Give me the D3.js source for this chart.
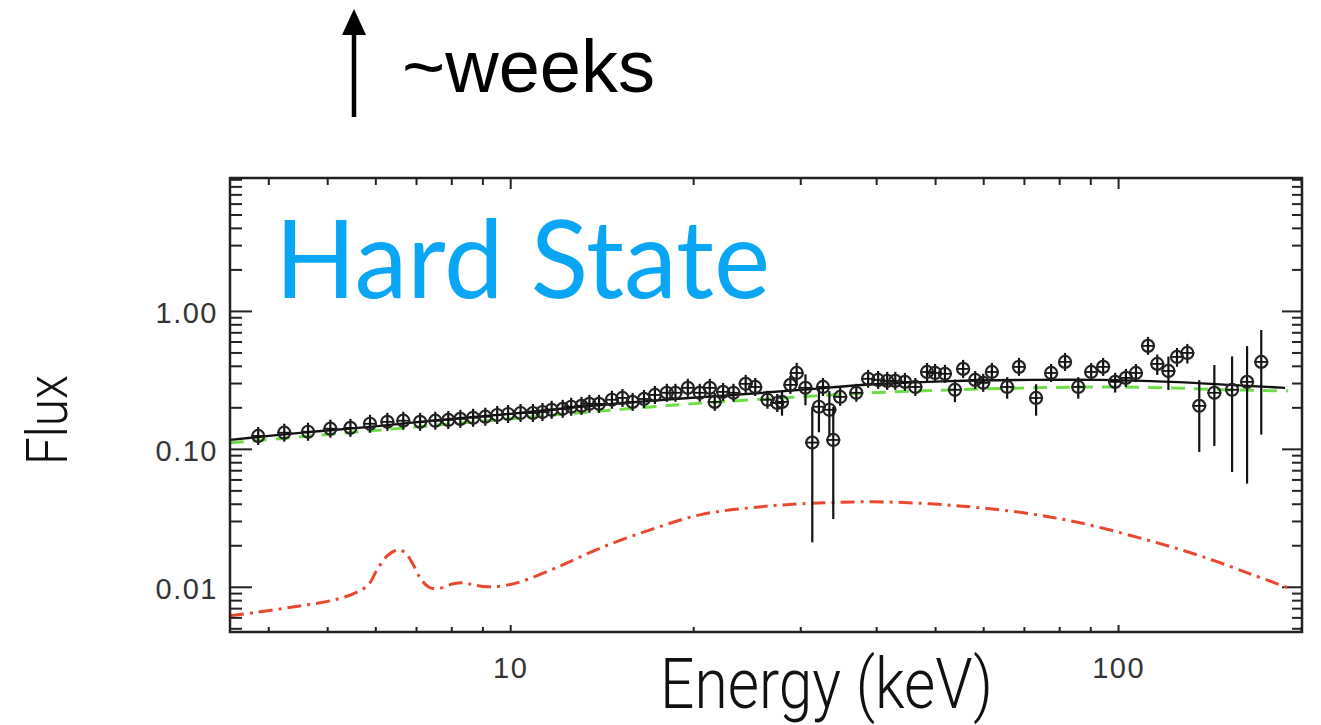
<!DOCTYPE html>
<html>
  <head>
    <script src="https://cdn.jsdelivr.net/npm/d3@7"></script>
    <style type="text/css">
      body { margin: 0; background: #fff; }
      .tick text { font-family: "Liberation Sans", Arial, sans-serif; font-size: 29px; fill: #333; letter-spacing: 1.5px; }
    </style>
  </head>
  <body>
    <script type="text/javascript">
      // --- data ---
      var energy = [3.85,4.25,4.65,5.06,5.46,5.88,6.28,6.67,7.11,
        7.53,7.91,8.28,8.69,9.10,9.52,9.92,10.4,10.9,11.3,11.7,12.2,12.6,13.1,13.5,14.0,
        14.7,15.3,15.9,16.6,17.3,18.1,18.7,19.6,20.5,21.3,21.7,22.4,23.3,24.4,25.3,26.5,27.5,
        28.0,28.9,29.6,30.6,31.4,32.2,32.7,33.5,34.0,34.9,37.1,38.8,40.3,41.7,43.0,44.6,46.4,48.5,50.0,51.9,53.9,55.6,58.2,60.0,62.0,65.7,68.7,73.3,77.6,81.8,86.0,
        90.3,94.5,98.9,103,107,112,116,121,125,130,136,144,154,163,172];
      var flux = [0.124,0.131,0.133,0.140,0.142,0.152,0.157,0.160,0.157,
        0.160,0.162,0.165,0.168,0.171,0.176,0.179,0.182,0.182,0.185,0.192,0.195,0.202,0.205,0.212,0.212,
        0.227,0.234,0.219,0.230,0.246,0.255,0.255,0.277,0.255,0.277,0.219,0.259,0.255,0.296,0.281,0.227,0.215,
        0.219,0.291,0.355,0.277,0.111,0.202,0.281,0.192,0.116,0.238,0.255,0.322,0.316,0.311,0.311,0.306,0.281,0.361,0.355,0.350,0.268,0.380,0.316,0.301,0.361,0.281,0.393,0.234,0.355,0.427,0.281,
        0.361,0.393,0.306,0.327,0.355,0.558,0.413,0.367,0.464,0.496,0.205,0.255,0.268,0.306,0.427];
      var fluxErr = [0.004,0.004,0.004,0.004,0.004,0.004,0.004,0.004,0.004,
        0.005,0.005,0.005,0.005,0.005,0.005,0.005,0.005,0.005,0.005,0.005,0.005,0.005,0.005,0.005,0.005,
        0.008,0.008,0.008,0.008,0.008,0.008,0.008,0.008,0.008,0.008,0.012,0.008,0.008,0.008,0.008,0.012,0.012,
        0.045,0.02,0.065,0.07,0.09,0.07,0.03,0.07,0.085,0.02,0.02,0.012,0.012,0.012,0.012,0.012,0.015,0.015,0.015,0.015,0.05,0.02,0.025,0.03,0.03,0.05,0.03,0.06,0.04,0.04,0.05,
        0.04,0.045,0.05,0.04,0.05,0.05,0.07,0.1,0.07,0.08,0.11,0.15,0.2,0.25,0.3];

      // total model (black), continuum (green dashed), reflection (red dash-dot)
      var totalE = [3.46,4.51,5.88,7.67,10,13.0,17.0,22.2,30.0,39.1,52.9,71.7,93.4,121.8,152.8,188.2];
      var totalF = [0.1162,0.1305,0.1444,0.1622,0.1794,0.2015,0.2228,0.2422,0.2676,0.2930,0.3100,0.3162,0.3162,0.3058,0.2909,0.2767];
      var contE = [3.46,4.51,5.88,7.67,10,13.0,17.0,22.2,30.0,39.1,52.9,71.7,93.4,121.8,152.8,190.4];
      var contF = [0.1105,0.1222,0.1350,0.1493,0.1650,0.1824,0.2015,0.2191,0.2381,0.2545,0.2676,0.2767,0.2813,0.2767,0.2676,0.2632];
      var reflE = [3.46,3.78,4.30,4.64,5.06,5.52,5.84,6.04,6.28,6.54,6.72,6.90,7.11,7.33,7.59,8.06,8.37,8.69,9.17,9.74,10.4,
        12.1,14.1,17.0,20.5,24.8,30.0,39.1,49.1,59.3,71.7,86.6,112.9,136.4,164.9,190.4];
      var reflF = [0.00616,0.00648,0.00704,0.00741,0.00792,0.00890,0.0103,0.01330,0.01680,0.01854,0.01764,0.01493,0.01162,0.0100,0.00967,0.01051,0.01069,0.01034,0.0100,0.01017,0.01087,
        0.01419,0.01917,0.02588,0.03323,0.03737,0.03995,0.04129,0.03995,0.03737,0.03381,0.02909,0.02154,0.01677,0.01242,0.00984];

      var yMajor = [0.01, 0.1, 1];
      var yMinor = [0.005,0.006,0.007,0.008,0.009,0.02,0.03,0.04,0.05,0.06,0.07,0.08,0.09,0.2,0.3,0.4,0.5,0.6,0.7,0.8,0.9,2,3,4,5,6,7,8,9];
      var xMajor = [10, 100];
      var xMinor = [4,5,6,7,8,9,20,30,40,50,60,70,80,90,200];

      // --- layout ---
      var w = 1321, h = 725,
          plot = { left: 230, right: 1302, top: 178, bottom: 632 };

      var svg = d3.select("body").append("svg")
          .attr("width", w)
          .attr("height", h);

      var x = d3.scaleLog().domain([3.46, 200.7]).range([plot.left, plot.right]);
      var y = d3.scaleLog().domain([0.0047, 9.2]).range([plot.bottom, plot.top]);

      svg.append("clipPath").attr("id", "clip")
        .append("rect")
          .attr("x", plot.left).attr("y", plot.top)
          .attr("width", plot.right - plot.left).attr("height", plot.bottom - plot.top);

      // axes: ticks inward on all four sides
      function axisGroup(axis, tx, ty, dy) {
        var g = svg.append("g")
          .attr("transform", "translate(" + [tx, ty] + ")")
          .call(axis);
        g.select(".domain").remove();
        g.attr("font-family", null).attr("font-size", null);
        g.selectAll(".tick line").attr("stroke", "#222").attr("stroke-width", 2);
        if (dy) g.selectAll(".tick text").attr("dy", dy);
        return g;
      }
      axisGroup(d3.axisLeft(y).tickValues(yMajor).tickSize(-22).tickPadding(12).tickFormat(d3.format(".2f")), plot.left, 0, "0.4em");
      axisGroup(d3.axisLeft(y).tickValues(yMinor).tickSize(-12).tickFormat(""), plot.left, 0);
      axisGroup(d3.axisRight(y).tickValues(yMajor).tickSize(-20).tickFormat(""), plot.right, 0);
      axisGroup(d3.axisRight(y).tickValues(yMinor).tickSize(-10).tickFormat(""), plot.right, 0);
      axisGroup(d3.axisBottom(x).tickValues(xMajor).tickSize(-7).tickPadding(25).tickFormat(d3.format("d")), 0, plot.bottom, "0.71em");
      axisGroup(d3.axisBottom(x).tickValues(xMinor).tickSize(-5).tickFormat(""), 0, plot.bottom);
      axisGroup(d3.axisTop(x).tickValues(xMajor).tickSize(-11).tickFormat(""), 0, plot.top);
      axisGroup(d3.axisTop(x).tickValues(xMinor).tickSize(-7).tickFormat(""), 0, plot.top);

      var curves = svg.append("g").attr("clip-path", "url(#clip)");
      var line = d3.line()
          .x(function(d) { return x(d[0]); })
          .y(function(d) { return y(d[1]); })
          .curve(d3.curveCatmullRom.alpha(0.5));

      curves.append("path")
        .attr("d", line(d3.zip(reflE, reflF)))
        .attr("fill", "none")
        .attr("stroke", "#e9482f")
        .attr("stroke-width", 3)
        .attr("stroke-dasharray", "14,6,3,6");

      curves.append("path")
        .attr("d", line(d3.zip(contE, contF)))
        .attr("fill", "none")
        .attr("stroke", "#6ede46")
        .attr("stroke-width", 3)
        .attr("stroke-dasharray", "14,9");

      curves.append("path")
        .attr("d", line(d3.zip(totalE, totalF)))
        .attr("fill", "none")
        .attr("stroke", "#111")
        .attr("stroke-width", 2.4);

      // data points with error bars
      var pts = d3.range(energy.length).map(function(i) {
        return { e: energy[i], f: flux[i], err: fluxErr[i] };
      });
      var pg = curves.selectAll("g.pt")
          .data(pts)
          .enter()
          .append("g")
          .attr("class", "pt");

      pg.append("line")
        .attr("x1", function(d) { return x(d.e); })
        .attr("x2", function(d) { return x(d.e); })
        .attr("y1", function(d) { return Math.min(y(d.f + d.err), y(d.f) - 9); })
        .attr("y2", function(d) { return Math.max(y(Math.max(d.f - d.err, 0.005)), y(d.f) + 9); })
        .attr("stroke", "#111")
        .attr("stroke-width", 2.2);

      pg.append("line")
        .attr("x1", function(d) { return x(d.e) - 7; })
        .attr("x2", function(d) { return x(d.e) + 7; })
        .attr("y1", function(d) { return y(d.f); })
        .attr("y2", function(d) { return y(d.f); })
        .attr("stroke", "#111")
        .attr("stroke-width", 1.8);

      pg.append("circle")
        .attr("cx", function(d) { return x(d.e); })
        .attr("cy", function(d) { return y(d.f); })
        .attr("r", 6)
        .attr("fill", "none")
        .attr("stroke", "#222")
        .attr("stroke-width", 2.2);

      // frame
      svg.append("rect")
        .attr("x", plot.left).attr("y", plot.top)
        .attr("width", plot.right - plot.left).attr("height", plot.bottom - plot.top)
        .attr("fill", "none")
        .attr("stroke", "#222")
        .attr("stroke-width", 2.5);

      // labels
      svg.append("text")
        .attr("x", 275).attr("y", 298)
        .attr("textLength", 495).attr("lengthAdjust", "spacingAndGlyphs")
        .style("font-family", "Lato, 'Open Sans', sans-serif")
        .style("font-size", "108px")
        .style("fill", "#0aa6f6")
        .text("Hard State");

      svg.append("text")
        .attr("x", 660).attr("y", 708)
        .attr("textLength", 333).attr("lengthAdjust", "spacingAndGlyphs")
        .style("font-family", "Roboto, 'Liberation Sans', sans-serif")
        .style("font-weight", 300)
        .style("font-size", "70px")
        .style("fill", "#111")
        .text("Energy (keV)");

      svg.append("text")
        .attr("transform", "translate(67,465) rotate(-90)")
        .attr("textLength", 90).attr("lengthAdjust", "spacingAndGlyphs")
        .style("font-family", "Roboto, 'Liberation Sans', sans-serif")
        .style("font-weight", 300)
        .style("font-size", "58px")
        .style("fill", "#111")
        .text("Flux");

      // arrow + "~weeks"
      svg.append("line")
        .attr("x1", 354).attr("x2", 354)
        .attr("y1", 117).attr("y2", 30)
        .attr("stroke", "#000").attr("stroke-width", 4.5);
      svg.append("path")
        .attr("d", "M342,35 L366,35 L354,9 Z")
        .attr("fill", "#000");
      svg.append("text")
        .attr("x", 402).attr("y", 92)
        .style("font-family", "'Liberation Sans', Arial, sans-serif")
        .style("font-size", "74px")
        .style("fill", "#000")
        .text("~weeks");
    </script>
  </body>
</html>
